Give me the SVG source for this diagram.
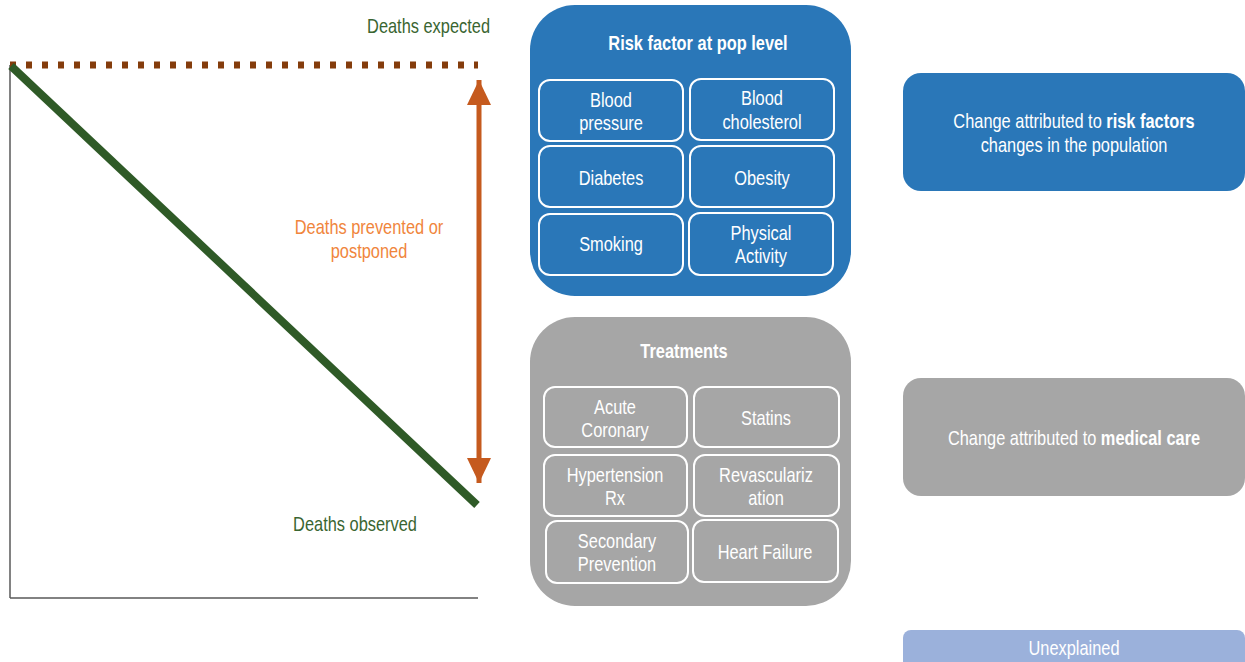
<svg xmlns="http://www.w3.org/2000/svg" width="1245" height="662" viewBox="0 0 1245 662">
<style>
text{font-family:"Liberation Sans",Arial,sans-serif;font-size:20px;text-anchor:middle}
.w{fill:#ffffff}
.b{font-weight:bold}
.inner{fill:none;stroke:#ffffff;stroke-width:2}
.blue{fill:#2a77b8}
.grey{fill:#a6a6a6}
</style>
<defs>
<marker id="ah" viewBox="0 0 25 24" refX="25" refY="12" markerWidth="25" markerHeight="24" markerUnits="userSpaceOnUse" orient="auto-start-reverse">
<path d="M0,0 L25,12 L0,24 Z" fill="#c55a1e"/>
</marker>
</defs>
<rect width="1245" height="662" fill="#ffffff"/>
<g id="chart">
<line x1="10" y1="65" x2="10" y2="598" stroke="#595959" stroke-width="1.5"/>
<line x1="10" y1="598" x2="478" y2="598" stroke="#595959" stroke-width="1.5"/>
<line x1="10" y1="65" x2="478" y2="65" stroke="#843c0c" stroke-width="7" stroke-dasharray="6 10"/>
<line x1="11" y1="66" x2="477" y2="505" stroke="#2f5a27" stroke-width="8"/>
<text transform="translate(490,33) scale(.82,1)" style="text-anchor:end" fill="#3a6531">Deaths expected</text>
<text transform="translate(369,234) scale(.82,1)" fill="#f0853c">Deaths prevented or</text>
<text transform="translate(369,258) scale(.82,1)" fill="#f0853c">postponed</text>
<text transform="translate(355,531) scale(.82,1)" fill="#3a6531">Deaths observed</text>
</g>
<g id="connectors">
<line x1="479" y1="80" x2="479" y2="483" stroke="#c55a1e" stroke-width="5" marker-start="url(#ah)" marker-end="url(#ah)"/>
</g>
<g id="risk-factors">
<rect x="530" y="5" width="321" height="291" rx="45" class="blue"/>
<text transform="translate(698,50) scale(.82,1)" class="w b">Risk factor at pop level</text>
<rect x="539" y="80" width="144" height="61" rx="11" class="inner"/>
<text transform="translate(611,107) scale(.82,1)" class="w">Blood</text><text transform="translate(611,130) scale(.82,1)" class="w">pressure</text>
<rect x="690" y="79" width="144" height="61" rx="11" class="inner"/>
<text transform="translate(762,105) scale(.82,1)" class="w">Blood</text><text transform="translate(762,129) scale(.82,1)" class="w">cholesterol</text>
<rect x="539" y="146" width="144" height="61" rx="11" class="inner"/>
<text transform="translate(611,185) scale(.82,1)" class="w">Diabetes</text>
<rect x="690" y="146" width="144" height="61" rx="11" class="inner"/>
<text transform="translate(762,185) scale(.82,1)" class="w">Obesity</text>
<rect x="539" y="214" width="144" height="61" rx="11" class="inner"/>
<text transform="translate(611,251) scale(.82,1)" class="w">Smoking</text>
<rect x="689" y="213" width="144" height="62" rx="11" class="inner"/>
<text transform="translate(761,240) scale(.82,1)" class="w">Physical</text><text transform="translate(761,263) scale(.82,1)" class="w">Activity</text>
</g>
<g id="treatments">
<rect x="530" y="317" width="321" height="289" rx="45" class="grey"/>
<text transform="translate(684,358) scale(.82,1)" class="w b">Treatments</text>
<rect x="544" y="387" width="143" height="60" rx="11" class="inner"/>
<text transform="translate(615,414) scale(.82,1)" class="w">Acute</text><text transform="translate(615,437) scale(.82,1)" class="w">Coronary</text>
<rect x="694" y="387" width="145" height="60" rx="11" class="inner"/>
<text transform="translate(766,425) scale(.82,1)" class="w">Statins</text>
<rect x="544" y="455" width="143" height="61" rx="11" class="inner"/>
<text transform="translate(615,482) scale(.82,1)" class="w">Hypertension</text><text transform="translate(615,505) scale(.82,1)" class="w">Rx</text>
<rect x="694" y="455" width="145" height="61" rx="11" class="inner"/>
<text transform="translate(766,482) scale(.82,1)" class="w">Revasculariz</text><text transform="translate(766,505) scale(.82,1)" class="w">ation</text>
<rect x="546" y="521" width="142" height="62" rx="11" class="inner"/>
<text transform="translate(617,548) scale(.82,1)" class="w">Secondary</text><text transform="translate(617,571) scale(.82,1)" class="w">Prevention</text>
<rect x="693" y="520" width="145" height="62" rx="11" class="inner"/>
<text transform="translate(765,559) scale(.82,1)" class="w">Heart Failure</text>
</g>
<g id="risk-attr">
<rect x="903" y="73" width="342" height="118" rx="18" class="blue"/>
<text transform="translate(1074,128) scale(.82,1)" class="w">Change attributed to <tspan class="b">risk factors</tspan></text>
<text transform="translate(1074,152) scale(.82,1)" class="w">changes in the population</text>
</g>
<g id="medical-attr">
<rect x="903" y="378" width="342" height="118" rx="18" class="grey"/>
<text transform="translate(1074,445) scale(.82,1)" class="w">Change attributed to <tspan class="b">medical care</tspan></text>
</g>
<g id="unexplained">
<rect x="903" y="630" width="342" height="45" rx="8" fill="#9bb1db"/>
<text transform="translate(1074,655) scale(.82,1)" class="w">Unexplained</text>
</g>
</svg>
